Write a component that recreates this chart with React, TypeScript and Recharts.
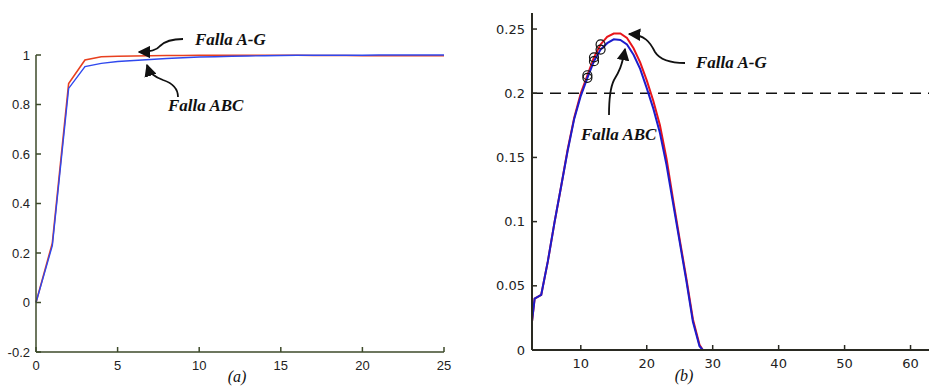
import { LineChart, Line, XAxis, YAxis, ReferenceLine } from "recharts";

// (a) left panel
const leftX = [0, 1, 2, 3, 4, 5, 6, 7, 8, 9, 10, 11, 12, 13, 14, 15, 16, 17, 18, 19, 20, 21, 22, 23, 24, 25];
const leftRed = [0, 0.24, 0.885, 0.98, 0.993, 0.995, 0.996, 0.997, 0.998, 0.998, 0.999, 0.999, 0.999, 0.999, 0.999, 0.999, 0.999, 0.998, 0.998, 0.998, 0.997, 0.997, 0.997, 0.997, 0.997, 0.997];
const leftBlue = [0, 0.23, 0.865, 0.953, 0.966, 0.974, 0.978, 0.982, 0.986, 0.989, 0.992, 0.993, 0.995, 0.996, 0.997, 0.998, 0.999, 0.999, 0.999, 0.999, 0.999, 1.0, 1.0, 1.0, 1.0, 1.0];
const leftXTicks = [0, 5, 10, 15, 20, 25];
const leftYTicks = [-0.2, 0, 0.2, 0.4, 0.6, 0.8, 1];

// (b) right panel
const rightX = [2.6, 3, 4, 5, 6, 7, 8, 9, 10, 11, 12, 13, 14, 15, 16, 17, 18, 19, 20, 21, 22, 23, 24, 25, 26, 27, 28, 28.5, 30, 62.8];
const rightBlue = [0.022, 0.04, 0.043, 0.069, 0.099, 0.127, 0.155, 0.18, 0.198, 0.212, 0.225, 0.234, 0.239, 0.242, 0.2415, 0.238, 0.23, 0.219, 0.204, 0.188, 0.169, 0.144, 0.114, 0.084, 0.054, 0.022, 0.003, 0, 0, 0];
const rightRed = [0.022, 0.04, 0.043, 0.069, 0.099, 0.127, 0.156, 0.181, 0.2, 0.214, 0.228, 0.238, 0.244, 0.2465, 0.2465, 0.243, 0.235, 0.224, 0.21, 0.194, 0.175, 0.149, 0.117, 0.086, 0.056, 0.024, 0.004, 0, 0, 0];
const rightXTicks = [10, 20, 30, 40, 50, 60];
const rightYTicks = [0, 0.05, 0.1, 0.15, 0.2, 0.25];
const circledX = [11, 12, 13];
const threshold = 0.2;

const leftData = leftX.map((x, i) => ({ x, red: leftRed[i], blue: leftBlue[i] }));
const rightData = rightX.map((x, i) => ({ x, red: rightRed[i], blue: rightBlue[i] }));

const makeYTick = (color: string, font: string, margin: number) => (props: any) => {
  const { x, y, payload } = props;
  const ax = x + margin;
  return (
    <g>
      <line x1={ax} x2={ax + 5} y1={y} y2={y} stroke={color} strokeWidth={1.5} />
      <text x={x} y={y} dy="0.35em" textAnchor="end" fontFamily={font} fontSize={13} fill="#222">
        {payload.value}
      </text>
    </g>
  );
};

const makeXTick = (color: string, font: string, margin: number) => (props: any) => {
  const { x, y, payload } = props;
  const ay = y - margin;
  return (
    <g>
      <line x1={x} x2={x} y1={ay} y2={ay - 5} stroke={color} strokeWidth={1.5} />
      <text x={x} y={y} dy="0.71em" textAnchor="middle" fontFamily={font} fontSize={13} fill="#222">
        {payload.value}
      </text>
    </g>
  );
};

const circleDot = (props: any) => {
  const { cx, cy, payload, index } = props;
  if (!circledX.includes(payload.x)) return <g key={index} />;
  return <circle key={index} cx={cx} cy={cy} r={4.5} fill="none" stroke="#111" strokeWidth={1.2} />;
};

const annoStyle = { fontFamily: "'Liberation Serif', 'Times New Roman', serif", fontWeight: 700, fontStyle: "italic", fontSize: 17 };

export default function App() {
  const leftAxis = "#3d4a2a";
  const rightAxis = "#2a2a22";
  return (
    <div style={{ position: "absolute", left: 0, top: 0, width: 929, height: 387, background: "#fff", overflow: "hidden" }}>
      <div style={{ position: "absolute", left: 0, top: 0 }}>
        <LineChart width={470} height={387} data={leftData} margin={{ top: 55, right: 26, left: 0, bottom: 0 }}>
          <XAxis
            dataKey="x"
            type="number"
            domain={[0, 25]}
            ticks={leftXTicks}
            height={35}
            stroke={leftAxis}
            strokeWidth={1.5}
            tickLine={false}
            tickSize={0}
            tickMargin={9}
            tick={makeXTick(leftAxis, "'Liberation Sans', Arial, sans-serif", 9)}
            interval={0}
          />
          <YAxis
            type="number"
            domain={[-0.2, 1]}
            ticks={leftYTicks}
            width={36}
            stroke={leftAxis}
            strokeWidth={1.5}
            tickLine={false}
            tickSize={0}
            tickMargin={6}
            tick={makeYTick(leftAxis, "'Liberation Sans', Arial, sans-serif", 6)}
            interval={0}
          />
          <Line dataKey="red" stroke="#e8401f" strokeWidth={1.6} dot={false} isAnimationActive={false} />
          <Line dataKey="blue" stroke="#2f48ee" strokeWidth={1.4} dot={false} isAnimationActive={false} />
        </LineChart>
      </div>
      <div style={{ position: "absolute", left: 470, top: 0 }}>
        <LineChart width={459} height={387} data={rightData} margin={{ top: 13, right: 0, left: 0, bottom: 0 }}>
          <XAxis
            dataKey="x"
            type="number"
            domain={[2.6, 62.8]}
            ticks={rightXTicks}
            height={37}
            stroke={rightAxis}
            strokeWidth={2}
            tickLine={false}
            tickSize={0}
            tickMargin={9}
            tick={makeXTick(rightAxis, "'DejaVu Sans', sans-serif", 9)}
            interval={0}
          />
          <YAxis
            type="number"
            domain={[0, 0.2625]}
            ticks={rightYTicks}
            width={62}
            stroke={rightAxis}
            strokeWidth={2}
            tickLine={false}
            tickSize={0}
            tickMargin={7}
            tick={makeYTick(rightAxis, "'DejaVu Sans', sans-serif", 7)}
            interval={0}
          />
          <ReferenceLine y={threshold} stroke="#111" strokeWidth={1.5} strokeDasharray="11 7" />
          <Line dataKey="red" stroke="#e8141a" strokeWidth={2} dot={circleDot} isAnimationActive={false} />
          <Line dataKey="blue" stroke="#1c1ccc" strokeWidth={2} dot={circleDot} isAnimationActive={false} />
        </LineChart>
      </div>
      <svg width={929} height={387} style={{ position: "absolute", left: 0, top: 0, pointerEvents: "none" }}>
        <defs>
          <marker id="head" viewBox="0 0 10 10" refX="9" refY="5" markerWidth="7" markerHeight="7" orient="auto">
            <path d="M0,0 L10,5 L0,10 z" fill="#111" />
          </marker>
        </defs>
        <g fill="none" stroke="#111" strokeWidth={1.8}>
          <path d="M183,39 C168,39 163,43 160,46 C157,50 152,52 139,52" markerEnd="url(#head)" />
          <path d="M178,97 C178,88 172,83 163,80 C155,77 150,74 147,65" markerEnd="url(#head)" />
          <path d="M685,63 C670,63 660,60 655,52 C650,42 645,35 629,34" markerEnd="url(#head)" />
          <path d="M609,115 C609,100 610,88 614,80 C619,72 622,66 625,49" markerEnd="url(#head)" />
        </g>
        <g fill="#111" style={annoStyle}>
          <text x={195} y={45}>Falla A-G</text>
          <text x={168} y={111}>Falla ABC</text>
          <text x={696} y={68}>Falla A-G</text>
          <text x={581} y={140}>Falla ABC</text>
        </g>
        <g fill="#111" style={{ fontFamily: "'Liberation Serif', serif", fontStyle: "italic", fontSize: 16 }}>
          <text x={237} y={382} textAnchor="middle">(a)</text>
          <text x={684} y={381} textAnchor="middle">(b)</text>
        </g>
      </svg>
    </div>
  );
}
